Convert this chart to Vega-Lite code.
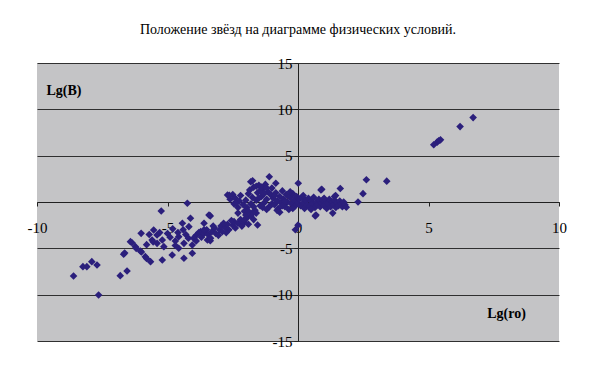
{
  "$schema": "https://vega.github.io/schema/vega-lite/v6.json",
  "width": 522,
  "height": 278,
  "autosize": {"type": "none"},
  "padding": {"left": 37, "top": 63, "right": 33, "bottom": 32},
  "background": "white",
  "title": {
    "text": "Положение звёзд на диаграмме физических условий.",
    "font": "Liberation Serif",
    "fontSize": 14,
    "fontWeight": "normal",
    "color": "black",
    "anchor": "middle",
    "frame": "group",
    "offset": 19
  },
  "data": {
    "values": [
      {"x": -8.6, "y": -7.98}, {"x": -8.24, "y": -6.98}, {"x": -8.09, "y": -6.98}, {"x": -7.9, "y": -6.44}, {"x": -7.7, "y": -6.8}, {"x": -7.64, "y": -10.03}, {"x": -6.81, "y": -7.95}, {"x": -6.55, "y": -7.44}, {"x": -6.68, "y": -5.64}, {"x": -6.64, "y": -5.5},
      {"x": -6.42, "y": -4.28}, {"x": -6.36, "y": -4.4}, {"x": -6.23, "y": -4.82}, {"x": -6.2, "y": -5.0}, {"x": -6.04, "y": -5.29}, {"x": -6.0, "y": -5.4}, {"x": -6.01, "y": -3.38}, {"x": -5.85, "y": -5.9}, {"x": -5.8, "y": -6.1}, {"x": -5.65, "y": -6.44}, {"x": -5.59, "y": -4.1}, {"x": -5.55, "y": -4.3}, {"x": -5.53, "y": -3.02}, {"x": -5.4, "y": -3.56}, {"x": -5.4, "y": -4.46}, {"x": -5.2, "y": -4.1}, {"x": -5.14, "y": -4.82}, {"x": -5.2, "y": -6.26}, {"x": -4.82, "y": -5.72}, {"x": -4.37, "y": -6.07}, {"x": -4.05, "y": -5.53}, {"x": -5.24, "y": -0.97}, {"x": -4.24, "y": -0.14}, {"x": -4.43, "y": -2.3}, {"x": -4.12, "y": -1.76}, {"x": -4.18, "y": -2.66}, {"x": -3.73, "y": -3.2}, {"x": -4.57, "y": -3.74}, {"x": -4.37, "y": -4.46}, {"x": -4.57, "y": -4.99}, {"x": -4.05, "y": -4.64}, {"x": -3.6, "y": -2.3}, {"x": -3.47, "y": -4.1},
      {"x": -5.0, "y": -3.4}, {"x": -4.9, "y": -3.8}, {"x": -4.7, "y": -4.2}, {"x": -4.6, "y": -3.3}, {"x": -4.8, "y": -2.9}, {"x": -5.3, "y": -3.3}, {"x": -4.4, "y": -3.0}, {"x": -4.3, "y": -3.5}, {"x": -4.2, "y": -3.9}, {"x": -4.7, "y": -4.7}, {"x": -5.7, "y": -3.5}, {"x": -5.8, "y": -4.6}, {"x": -3.36, "y": -1.5}, {"x": -3.36, "y": -4.18},
      {"x": -3.9, "y": -3.6}, {"x": -3.8, "y": -3.3}, {"x": -3.7, "y": -3.8}, {"x": -3.6, "y": -3.4}, {"x": -3.5, "y": -3.0}, {"x": -3.45, "y": -3.5}, {"x": -3.3, "y": -3.2}, {"x": -3.2, "y": -2.8}, {"x": -3.15, "y": -3.4}, {"x": -3.0, "y": -3.0}, {"x": -2.95, "y": -2.6}, {"x": -2.9, "y": -3.2}, {"x": -2.8, "y": -2.7}, {"x": -2.7, "y": -2.4}, {"x": -2.65, "y": -3.0}, {"x": -2.5, "y": -2.5}, {"x": -2.45, "y": -2.1}, {"x": -2.4, "y": -2.8}, {"x": -2.3, "y": -2.3}, {"x": -2.2, "y": -1.9}, {"x": -2.15, "y": -2.6}, {"x": -2.05, "y": -2.2}, {"x": -1.95, "y": -1.7}, {"x": -1.9, "y": -2.4}, {"x": -1.8, "y": -1.5}, {"x": -1.7, "y": -1.9}, {"x": -1.6, "y": -1.2}, {"x": -3.35, "y": -3.9}, {"x": -3.05, "y": -3.6}, {"x": -2.75, "y": -3.3}, {"x": -4.0, "y": -3.9}, {"x": -3.9, "y": -4.2}, {"x": -3.25, "y": -2.6}, {"x": -2.85, "y": -2.3}, {"x": -2.55, "y": -2.0}, {"x": -3.6, "y": -3.0},
      {"x": -2.7, "y": 0.76}, {"x": -2.6, "y": 0.3}, {"x": -2.5, "y": 0.8}, {"x": -2.45, "y": -0.2}, {"x": -2.4, "y": 0.4}, {"x": -2.3, "y": -0.6}, {"x": -2.25, "y": 0.1}, {"x": -2.2, "y": 0.7}, {"x": -2.1, "y": -0.3}, {"x": -2.05, "y": -1.0}, {"x": -2.0, "y": 0.2}, {"x": -1.95, "y": -0.6}, {"x": -1.9, "y": 0.9}, {"x": -1.85, "y": 1.3}, {"x": -1.8, "y": -0.2}, {"x": -1.75, "y": 0.5}, {"x": -1.7, "y": 1.6}, {"x": -1.65, "y": -0.9}, {"x": -1.6, "y": 0.2}, {"x": -1.55, "y": 1.0}, {"x": -1.5, "y": 1.8}, {"x": -1.45, "y": -0.4}, {"x": -1.4, "y": 0.6}, {"x": -1.35, "y": 1.4}, {"x": -1.3, "y": -0.1}, {"x": -1.25, "y": 1.9}, {"x": -1.2, "y": 0.3}, {"x": -1.15, "y": 1.1}, {"x": -1.1, "y": -0.5}, {"x": -1.05, "y": 0.8}, {"x": -1.0, "y": 1.5}, {"x": -1.0, "y": -0.2}, {"x": -2.0, "y": -1.4}, {"x": -1.75, "y": -1.2}, {"x": -2.3, "y": -1.2}, {"x": -1.6, "y": 1.7}, {"x": -1.45, "y": 1.2}, {"x": -1.3, "y": 0.9}, {"x": -1.9, "y": -1.0}, {"x": -1.2, "y": -0.8}, {"x": -2.38, "y": -0.14}, {"x": -2.07, "y": -1.94}, {"x": -1.55, "y": -2.48}, {"x": -1.81, "y": 2.19}, {"x": -1.1, "y": 2.73}, {"x": -0.85, "y": 2.02}, {"x": -1.74, "y": 2.3}, {"x": -3.41, "y": -1.4}, {"x": -2.63, "y": 0.71}, {"x": -1.4, "y": 1.6}, {"x": -1.2, "y": 1.5}, {"x": -1.5, "y": 0.4}, {"x": -1.35, "y": -0.6}, {"x": -1.7, "y": -0.5},
      {"x": -0.95, "y": 0.4}, {"x": -0.9, "y": -0.3}, {"x": -0.85, "y": 1.0}, {"x": -0.8, "y": 0.1}, {"x": -0.75, "y": -0.7}, {"x": -0.7, "y": 0.6}, {"x": -0.65, "y": -0.1}, {"x": -0.6, "y": 1.2}, {"x": -0.55, "y": 0.3}, {"x": -0.5, "y": -0.5}, {"x": -0.45, "y": 0.8}, {"x": -0.4, "y": 0.0}, {"x": -0.35, "y": -0.8}, {"x": -0.3, "y": 0.5}, {"x": -0.25, "y": -0.2}, {"x": -0.2, "y": 0.9}, {"x": -0.15, "y": 0.2}, {"x": -0.1, "y": -0.4}, {"x": -0.05, "y": 0.6}, {"x": 0.0, "y": -0.1}, {"x": -0.7, "y": -1.1}, {"x": -0.3, "y": 1.1}, {"x": -0.6, "y": -0.4}, {"x": -0.9, "y": 0.7}, {"x": 0.01, "y": 2.02}, {"x": -0.1, "y": -3.0}, {"x": 0.0, "y": -2.5}, {"x": -0.8, "y": -0.9}, {"x": -0.5, "y": 0.1}, {"x": -0.2, "y": -0.7},
      {"x": 0.05, "y": 0.3}, {"x": 0.1, "y": -0.4}, {"x": 0.15, "y": 0.5}, {"x": 0.2, "y": -0.1}, {"x": 0.25, "y": -0.7}, {"x": 0.3, "y": 0.2}, {"x": 0.35, "y": -0.3}, {"x": 0.4, "y": 0.4}, {"x": 0.45, "y": -0.5}, {"x": 0.5, "y": 0.1}, {"x": 0.55, "y": -0.2}, {"x": 0.6, "y": 0.5}, {"x": 0.65, "y": -0.6}, {"x": 0.7, "y": 0.0}, {"x": 0.75, "y": -0.3}, {"x": 0.8, "y": 0.3}, {"x": 0.85, "y": -0.5}, {"x": 0.9, "y": -0.1}, {"x": 0.95, "y": 0.2}, {"x": 1.0, "y": -0.4}, {"x": 1.05, "y": 0.1}, {"x": 1.1, "y": -0.7}, {"x": 1.15, "y": -0.2}, {"x": 1.2, "y": 0.3}, {"x": 1.25, "y": -0.5}, {"x": 1.3, "y": 0.0}, {"x": 1.35, "y": -0.3}, {"x": 1.4, "y": 0.2}, {"x": 1.45, "y": -0.6}, {"x": 1.5, "y": -0.1}, {"x": 1.55, "y": -0.4}, {"x": 1.6, "y": 0.1}, {"x": 1.65, "y": -0.2}, {"x": 1.7, "y": -0.5}, {"x": 1.75, "y": 0.0}, {"x": 1.8, "y": -0.3}, {"x": 1.85, "y": -0.57}, {"x": 0.69, "y": -1.4}, {"x": 1.33, "y": -1.2}, {"x": 0.66, "y": -1.5}, {"x": 1.4, "y": 0.6}, {"x": 1.44, "y": 0.7}, {"x": 0.91, "y": 1.37}, {"x": 1.62, "y": 1.45}, {"x": 2.3, "y": 0.0}, {"x": 2.49, "y": 0.9}, {"x": 2.62, "y": 2.4}, {"x": 3.4, "y": 2.25}, {"x": 0.88, "y": 1.29}, {"x": 0.2, "y": 0.7}, {"x": 0.5, "y": -0.8}, {"x": 1.0, "y": 0.4},
      {"x": 6.71, "y": 9.11}, {"x": 6.21, "y": 8.14}, {"x": 5.46, "y": 6.71}, {"x": 5.33, "y": 6.46}, {"x": 5.2, "y": 6.18}, {"x": 5.39, "y": 6.61}
    ]
  },
  "mark": {"type": "point", "shape": "diamond", "filled": true, "size": 58, "color": "#2b1f7c", "opacity": 1},
  "encoding": {
    "x": {
      "field": "x",
      "type": "quantitative",
      "scale": {"domain": [-10, 10], "nice": false, "zero": false},
      "axis": {
        "values": [-10, -5, 0, 5, 10],
        "offset": -139,
        "grid": false,
        "domainColor": "#202020",
        "tickColor": "#202020",
        "tickSize": 4,
        "labelPadding": 14,
        "labelFlush": false,
        "labelFont": "Liberation Serif",
        "labelFontSize": 15,
        "labelColor": "black",
        "labelExpr": "'' + datum.value",
        "title": "Lg(ro)",
        "titleFont": "Liberation Serif",
        "titleFontSize": 14,
        "titleFontWeight": "bold",
        "titleColor": "black",
        "titleX": 469,
        "titleY": 111,
        "titleAlign": "center",
        "titleBaseline": "middle"
      }
    },
    "y": {
      "field": "y",
      "type": "quantitative",
      "scale": {"domain": [-15, 15], "nice": false, "zero": false},
      "axis": {
        "values": [-15, -10, -5, 0, 5, 10, 15],
        "offset": -261,
        "grid": true,
        "gridColor": "#303030",
        "gridOpacity": 1,
        "domainColor": "#202020",
        "tickColor": "#202020",
        "tickSize": 4,
        "labelPadding": 2,
        "labelFont": "Liberation Serif",
        "labelFontSize": 15,
        "labelColor": "black",
        "labelExpr": "'' + datum.value",
        "title": "Lg(B)",
        "titleFont": "Liberation Serif",
        "titleFontSize": 14,
        "titleFontWeight": "bold",
        "titleColor": "black",
        "titleAngle": 0,
        "titleX": -252,
        "titleY": 27,
        "titleAlign": "left",
        "titleBaseline": "middle"
      }
    }
  },
  "config": {
    "view": {"fill": "#c4c4c6", "stroke": null}
  }
}
